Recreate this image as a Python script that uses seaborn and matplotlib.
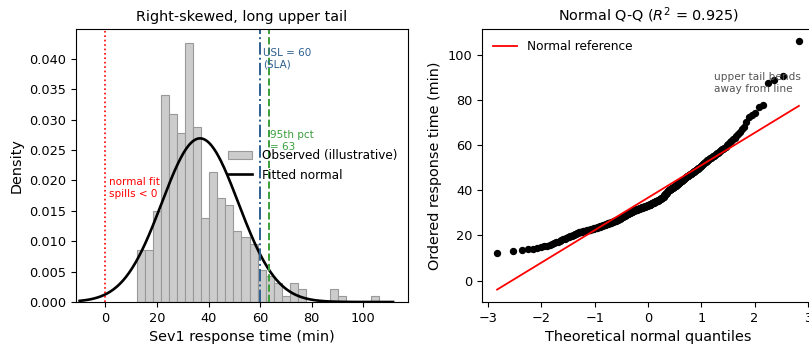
import numpy as np
import pandas as pd
import matplotlib
matplotlib.use("Agg")
import matplotlib.pyplot as plt
from matplotlib.ticker import MultipleLocator, FormatStrFormatter
import seaborn as sns
from statistics import NormalDist

response_times = [
    12.1, 13.3, 13.4, 13.9, 14.2, 14.5, 14.8, 15.1,
    15.4, 15.7, 16.1, 16.5, 16.9, 17.3, 17.7, 18.1,
    18.4, 18.6, 18.9, 19.1, 19.3, 19.6, 19.8, 20.0, 20.3, 20.5, 20.7, 20.9, 21.1, 21.4,
    21.5, 21.6, 21.7, 21.8, 21.9, 22.0, 22.1, 22.2, 22.3, 22.4, 22.5, 22.6, 22.7, 22.8,
    22.9, 23.0, 23.1, 23.2, 23.3, 23.4, 23.5, 23.6, 23.7, 23.8, 23.9, 24.0, 24.1, 24.2,
    24.3, 24.4, 24.5, 24.6,
    24.7, 24.8, 24.9, 25.0, 25.1, 25.2, 25.3, 25.4, 25.5, 25.6, 25.7, 25.8, 25.9, 26.0,
    26.1, 26.2, 26.3, 26.4, 26.5, 26.6, 26.7, 26.8, 26.9, 27.0, 27.1, 27.2, 27.3, 27.4, 27.6,
    27.8, 27.9, 28.0, 28.1, 28.3, 28.4, 28.5, 28.6, 28.8, 28.9, 29.0, 29.1, 29.3, 29.4,
    29.5, 29.6, 29.8, 29.9, 30.0, 30.1, 30.2, 30.3, 30.4, 30.5, 30.6, 30.8,
    30.90, 30.97, 31.05, 31.12, 31.20, 31.27, 31.35, 31.42, 31.50, 31.58,
    31.65, 31.73, 31.80, 31.88, 31.95, 32.03, 32.10, 32.18, 32.25, 32.33,
    32.40, 32.48, 32.55, 32.63, 32.70, 32.78, 32.85, 32.93, 33.00, 33.08,
    33.15, 33.23, 33.30, 33.38, 33.45, 33.53, 33.60, 33.68, 33.78, 33.90,
    34.05, 34.15, 34.25, 34.35, 34.45, 34.55, 34.65, 34.75, 34.85, 34.95,
    35.05, 35.15, 35.25, 35.35, 35.45, 35.55, 35.65, 35.75, 35.85, 35.95,
    36.1, 36.25, 36.4, 36.55, 36.7, 36.85, 37.0,
    37.2, 37.5, 37.7, 38.0, 38.2, 38.5, 38.7, 39.0, 39.2, 39.5, 39.7, 39.9, 40.1,
    40.3, 40.45, 40.6, 40.75, 40.9, 41.05, 41.2, 41.35, 41.5, 41.65,
    41.8, 41.95, 42.1, 42.25, 42.4, 42.55, 42.7, 42.85, 43.0, 43.2,
    43.5, 43.7, 43.9, 44.1, 44.3, 44.5, 44.7, 44.9, 45.1, 45.3, 45.5, 45.7, 45.9, 46.1, 46.3, 46.45,
    46.6, 46.8, 47.0, 47.2, 47.4, 47.6, 47.8, 48.0, 48.2, 48.4, 48.6, 48.8, 49.0, 49.2, 49.5,
    49.7, 50.0, 50.3, 50.6, 50.9, 51.2, 51.5, 51.8, 52.1, 52.4, 52.7,
    52.9, 53.2, 53.5, 53.8, 54.1, 54.4, 54.7, 55.0, 55.3, 55.7,
    56.0, 56.3, 56.7, 57.0, 57.4, 57.7, 58.1, 58.4, 58.8,
    59.3, 59.9, 60.6, 61.2, 61.8,
    62.6, 63.3, 64.0, 64.8,
    65.8, 66.9, 67.9,
    70.0,
    72.5, 73.4, 74.2,
    77.0, 77.6,
    87.4, 88.6,
    90.8,
    105.9,
]
usl_value = 60
n_bins = 30
r2_label = "0.925"

# ---- derived ----
x = np.asarray(response_times, dtype=float)
mu, sd = x.mean(), x.std(ddof=1)
p95 = np.percentile(x, 95)

curve_x = np.linspace(-10, 111.5, 400)
curve_y = np.exp(-0.5 * ((curve_x - mu) / sd) ** 2) / (sd * np.sqrt(2 * np.pi))

n = len(x)
ordered = np.sort(x)
m = (np.arange(1, n + 1) - 0.3175) / (n + 0.365)
m[-1] = 0.5 ** (1.0 / n)
m[0] = 1 - m[-1]
nd = NormalDist()
theo = np.array([nd.inv_cdf(v) for v in m])
slope, intercept = np.polyfit(theo, ordered, 1)
ref_y = slope * theo + intercept

# ---- figure ----
fig = plt.figure(figsize=(8.09, 3.5), dpi=100)
W, H = 809, 350
ax1 = fig.add_axes([76 / W, 48 / H, 332 / W, 273 / H])
ax2 = fig.add_axes([482 / W, 48 / H, 332 / W, 273 / H])

TICK = 9.3
LAB = 10.4

sns.histplot(x=x, bins=n_bins, stat="density", ax=ax1, color="#cccccc",
             edgecolor="#999999", linewidth=0.8, alpha=1.0,
             label="Observed (illustrative)")
sns.lineplot(x=curve_x, y=curve_y, ax=ax1, color="black", linewidth=1.9,
             label="Fitted normal")
ax1.axvline(0, color="red", linestyle=":", linewidth=1.2)
ax1.axvline(usl_value, color="#2d5f8f", linestyle="-.", linewidth=1.4)
ax1.axvline(p95, color="#3a9e3a", linestyle="--", linewidth=1.4)

ax1.text(61.0, 0.0418, f"USL = {usl_value}\n(SLA)", color="#2d5f8f",
         fontsize=7.5, va="top", ha="left")
ax1.text(63.7, 0.0283, f"95th pct\n= {p95:.0f}", color="#3a9e3a",
         fontsize=7.5, va="top", ha="left")
ax1.text(1.3, 0.0205, "normal fit\nspills < 0", color="red",
         fontsize=7.5, va="top", ha="left")

ax1.set_xlim(-11.4, 117.3)
ax1.set_ylim(0, 0.0449)
ax1.yaxis.set_major_locator(MultipleLocator(0.005))
ax1.yaxis.set_major_formatter(FormatStrFormatter("%.3f"))
ax1.set_title("Right-skewed, long upper tail", fontsize=LAB)
ax1.set_xlabel("Sev1 response time (min)", fontsize=LAB)
ax1.set_ylabel("Density", fontsize=LAB)
ax1.tick_params(labelsize=TICK)
handles, labels = ax1.get_legend_handles_labels()
order = sorted(range(len(labels)), key=lambda i: 0 if labels[i].startswith("Observed") else 1)
ax1.legend([handles[i] for i in order], [labels[i] for i in order],
           loc="center right", frameon=False, fontsize=8.7)

sns.scatterplot(x=theo, y=ordered, ax=ax2, color="black", s=28, linewidth=0)
sns.lineplot(x=theo, y=ref_y, ax=ax2, color="red", linewidth=1.3,
             label="Normal reference")
ax2.text(1.24, 92.3, "upper tail bends\naway from line", color="#555555",
         fontsize=7.6, va="top", ha="left")
ax2.set_title(f"Normal Q-Q ($R^2$ = {r2_label})", fontsize=LAB)
ax2.set_xlabel("Theoretical normal quantiles", fontsize=LAB)
ax2.set_ylabel("Ordered response time (min)", fontsize=LAB)
ax2.tick_params(labelsize=TICK)
ax2.legend(loc="upper left", frameon=False, fontsize=8.7)

fig.savefig("out.png", dpi=100)
